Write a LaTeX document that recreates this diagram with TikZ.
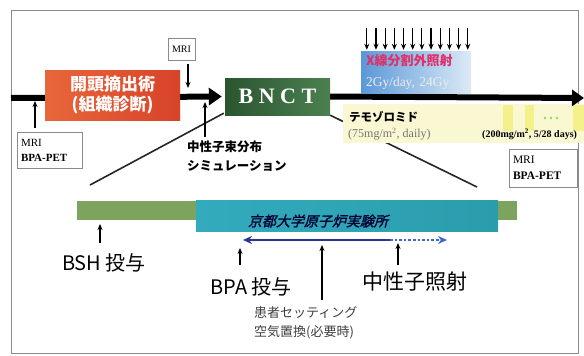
\documentclass[tikz,border=0pt]{standalone}
\usepackage{fontspec}
\setmainfont{Liberation Serif}
\newfontfamily\jp{Noto Sans CJK JP}
\newfontfamily\jpsl[FakeSlant=0.25,FakeBold=1.5]{Noto Sans CJK JP}
\usetikzlibrary{arrows.meta,backgrounds,calc}
\definecolor{opL}{HTML}{E8663A}
\definecolor{opR}{HTML}{D8432A}
\definecolor{bnL}{HTML}{2A5530}
\definecolor{bnR}{HTML}{4C8050}
\definecolor{xL}{HTML}{5A98D8}
\definecolor{xR}{HTML}{DCEAF6}
\definecolor{xred}{HTML}{E0306A}
\definecolor{ylPale}{HTML}{FAF8D2}
\definecolor{ylStrong}{HTML}{F4F08A}
\definecolor{gbar}{HTML}{7DA45E}
\definecolor{cyL}{HTML}{33ABBD}
\definecolor{cyM}{HTML}{55BFD6}
\definecolor{cyR}{HTML}{2A9DAC}
\definecolor{navy}{HTML}{2A3590}
\definecolor{lblue}{HTML}{3F66CC}
\definecolor{frame}{HTML}{8A8A8A}
\begin{document}
\begin{tikzpicture}[x=1pt,y=-1pt,
  thinarrow/.style={line width=1.4pt,-{Stealth[length=6pt,width=5pt]}},
  mainline/.style={line width=6pt},
  smallbox/.style={draw=frame,line width=0.6pt,fill=white,inner sep=3pt},
  biglabel/.style={inner sep=0pt,font=\jp\fontsize{20}{24}\selectfont,text=black},
  diag/.style={line width=1.6pt,black!85}]
\useasboundingbox (0,0) rectangle (584,356);

% ---------- upper timeline ----------
\node[minimum width=135pt,minimum height=50pt,inner sep=0pt,left color=opL,right color=opR,
  text=white,align=center,font=\jp\bfseries\fontsize{17}{20}\selectfont] (op) at (112.5,95)
  {開頭摘出術\\(組織診断)};
\node[minimum width=105pt,minimum height=37pt,inner sep=0pt,left color=bnL,right color=bnR,
  text=white,font=\bfseries\fontsize{22}{24}\selectfont] (bnct) at (277.5,96.5) {B N C T};
\node[smallbox,minimum width=27pt,minimum height=22pt,font=\fontsize{10}{12}\selectfont] (mri1) at (181.5,49) {MRI};
\node[smallbox,minimum width=65pt,minimum height=36pt,align=left,text width=57pt,
  font=\fontsize{11}{15}\selectfont] (mri2) at (49.5,150) {MRI\\\textbf{BPA-PET}};
\node[smallbox,minimum width=68pt,minimum height=38pt,align=left,text width=60pt,
  font=\fontsize{11.5}{16}\selectfont] (mri3) at (543,168) {MRI\\\textbf{BPA-PET}};
\node[anchor=west,inner sep=0pt,align=left,font=\jp\bfseries\fontsize{12.5}{19}\selectfont] (sim) at (187,156)
  {中性子束分布\\シミュレーション};
\node[minimum width=110pt,minimum height=42pt,inner sep=0pt,left color=xL,right color=xR,
  align=left,text width=100pt,font=\fontsize{13}{21}\selectfont] (xray) at (416,72)
  {{\jp\bfseries\color{xred}X線分割外照射}\\
   {\fontsize{13.5}{21}\selectfont\color{white!85!gray}2Gy/day, 24Gy}};
\foreach \i in {0,...,11}
  \draw[thinarrow,line width=1.2pt] ($(xray.north west)+(6+\i*9.18,-23)$) -- ++(0,22);

\coordinate (mainL) at (11,98);
\coordinate (mainR) at (584,98);
\coordinate (zl) at (90,185);
\coordinate (zr) at (477,187);
\coordinate (mriTip) at (188,88);
\coordinate (mri2Tip) at (35,101);
\coordinate (simTip) at (205,102);

\begin{scope}[on background layer]
  \fill[white] (0,0) rectangle (584,356);
  \draw[frame,line width=0.9pt] (11,10) rectangle (578,353);
  \draw[diag] (bnct.south east) -- (zr);
  \fill[ylPale] (343,104) rectangle (584,143);
  \fill[ylStrong] (503,105) rectangle (513,131);
  \fill[ylStrong] (525,105) rectangle (534,131);
  \fill[ylStrong] (573,105) rectangle (584,131);
  \draw[mainline,-{Triangle[length=13pt,width=17pt]}] (mainL) -- ([xshift=-3pt]bnct.west);
  \draw[mainline,-{Triangle[length=12pt,width=16pt]}] (bnct.east) -- (mainR);
\end{scope}
\foreach \x in {545,551,557} \fill[green!55!yellow!70!black!60] (\x,118) circle (1.4pt);

\draw[diag] (zl) -- ([shift={(-1pt,2pt)}]bnct.south west);
\draw[thinarrow] (mri1.south -| mriTip) ++(0,4) -- (mriTip);
\draw[thinarrow] (mri2.north -| mri2Tip) ++(0,-4) -- (mri2Tip);
\draw[thinarrow] (sim.north -| simTip) ++(0,-3) -- (simTip);

\node[anchor=west,inner sep=0pt,font=\jp\bfseries\fontsize{11.5}{14}\selectfont] (temo) at (349,117) {テモゾロミド};
\node[anchor=west,inner sep=0pt,text=black!55,font=\fontsize{12}{14}\selectfont] (temo1) at (348,134) {(75mg/m\textsuperscript{2}, daily)};
\node[anchor=west,inner sep=0pt,font=\bfseries\fontsize{10}{12}\selectfont] (temo2) at (482,134) {(200mg/m\textsuperscript{2}, 5/28 days)};

% ---------- lower detail ----------
\node[minimum width=440pt,minimum height=19pt,inner sep=0pt,fill=gbar] (bshbar) at (297,210.5) {};
\node[minimum width=302pt,minimum height=31pt,inner sep=0pt,left color=cyL,middle color=cyM,right color=cyR] (kyoto) at (347,215.5) {};
\node[inner sep=0pt,text=black!80!blue,font=\jpsl\fontsize{14}{16}\selectfont] (kyototxt) at (318,221) {京都大学原子炉実験所};

\coordinate (bpaL) at (243,240);
\coordinate (bpaM) at (390,240);
\coordinate (bpaR) at (447,240);
\draw[navy,line width=2.6pt,{Stealth[length=9pt,width=8pt]}-] (bpaL) -- (bpaM);
\draw[lblue,line width=2.6pt,dotted,-{Stealth[length=9pt,width=8pt]}] (bpaM) -- (bpaR);

\node[biglabel] (bsh) at (104,263) {BSH 投与};
\node[biglabel] (bpa) at (251,287) {BPA 投与};
\node[biglabel,font=\jp\fontsize{21}{24}\selectfont] (neu) at (415,282) {中性子照射};
\node[anchor=west,inner sep=0pt,align=left,text=black!75,font=\jp\fontsize{13}{19}\selectfont] (pat) at (254,322.5)
  {患者セッティング\\空気置換(必要時)};

\coordinate (bshA) at (100,243); \coordinate (bshB) at (100,224);
\coordinate (bpaA) at (240,265); \coordinate (bpaB) at (240,248);
\coordinate (patA) at (322,300); \coordinate (patB) at (322,245);
\coordinate (neuA) at (398,265); \coordinate (neuB) at (398,243);
\draw[thinarrow] (bshA) -- (bshB);
\draw[thinarrow] (bpaA) -- (bpaB);
\draw[thinarrow] (patA) -- (patB);
\draw[thinarrow] (neuA) -- (neuB);
\end{tikzpicture}
\end{document}
